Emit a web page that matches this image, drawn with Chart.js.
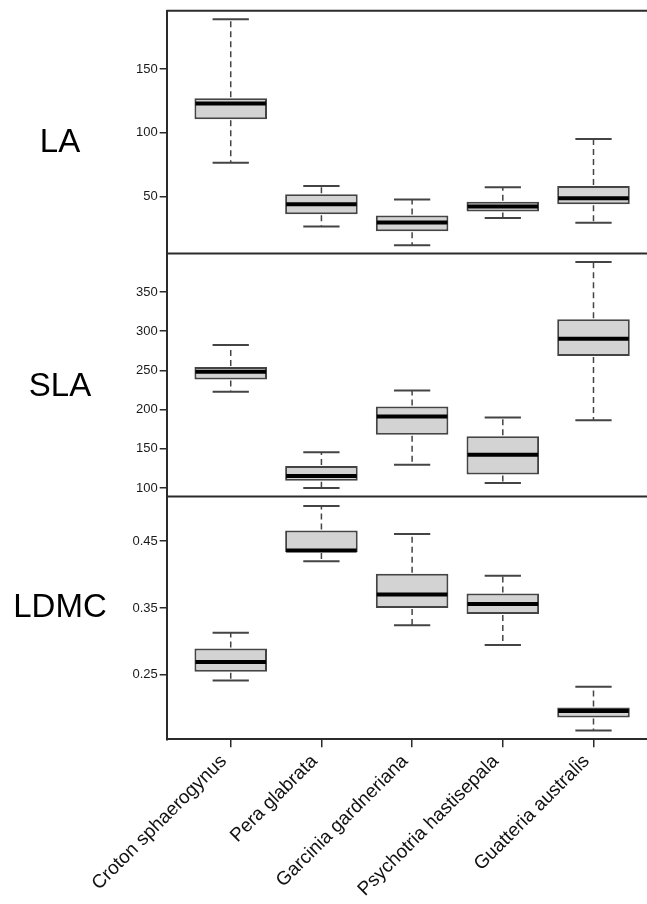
<!DOCTYPE html>
<html>
<head>
<meta charset="utf-8">
<title>Leaf traits by species</title>
<script src="https://cdn.jsdelivr.net/npm/chart.js@4.4.1/dist/chart.umd.min.js"></script>
<style>
  html, body { margin: 0; padding: 0; background: #fff; }
  #wrap { position: relative; width: 647px; height: 904px; }
</style>
</head>
<body>
<div id="wrap"><canvas id="traitChart"></canvas></div>
<script>
// ---- Data ----
const SPECIES = ['Croton sphaerogynus', 'Pera glabrata', 'Garcinia gardneriana', 'Psychotria hastisepala', 'Guatteria australis'];
const POSITIONS = [1, 2, 3, 4, 5];

const LA_MIN = [76.4, 26.4, 11.7, 33.2, 29.3];
const LA_Q1  = [110.7, 36.1, 22.7, 38.2, 44.0];
const LA_MED = [123.0, 44.0, 29.6, 42.1, 48.7];
const LA_Q3  = [127.0, 51.8, 35.1, 45.8, 58.3];
const LA_MAX = [189.0, 58.3, 47.6, 57.3, 95.2];
const LA_TICKS = [50, 100, 150];

const SLA_MIN = [222.8, 100.0, 129.8, 106.4, 186.4];
const SLA_Q1  = [238.5, 109.3, 167.8, 117.4, 268.3];
const SLA_MED = [248.3, 115.3, 191.2, 142.6, 290.5];
const SLA_Q3  = [254.2, 128.1, 204.0, 166.0, 315.2];
const SLA_MAX = [282.3, 145.5, 224.4, 189.9, 388.1];
const SLA_TICKS = [100, 150, 200, 250, 300, 350];

const LDMC_MIN = [0.2415, 0.4201, 0.3241, 0.2948, 0.1669];
const LDMC_Q1  = [0.2545, 0.4340, 0.3500, 0.3410, 0.1863];
const LDMC_MED = [0.2694, 0.4361, 0.3704, 0.3560, 0.1958];
const LDMC_Q3  = [0.2893, 0.4660, 0.4012, 0.3719, 0.2012];
const LDMC_MAX = [0.3131, 0.5027, 0.4609, 0.3982, 0.2321];
const LDMC_TICKS = [0.25, 0.35, 0.45];

// ---- Styles ----
const AXIS = '#2b2b2b';
const BOX_FILL = '#d3d3d3';
const BOX_EDGE = '#444444';
const FONT = "'Liberation Sans', Arial, sans-serif";

// panels top to bottom
const PANELS = [
    { name: 'LA',   axis: 'yLA',   min: LA_MIN,   q1: LA_Q1,   med: LA_MED,   q3: LA_Q3,   max: LA_MAX,   labelShift: 11 },
    { name: 'SLA',  axis: 'ySLA',  min: SLA_MIN,  q1: SLA_Q1,  med: SLA_MED,  q3: SLA_Q3,  max: SLA_MAX,  labelShift: 12 },
    { name: 'LDMC', axis: 'yLDMC', min: LDMC_MIN, q1: LDMC_Q1, med: LDMC_MED, q3: LDMC_Q3, max: LDMC_MAX, labelShift: -10 },
];

function boxDataset(p) {
    return {
        type: 'bar',
        label: p.name,
        yAxisID: p.axis,
        grouped: false,
        data: POSITIONS.map((x, i) => ({ x: x, y: [p.q1[i], p.q3[i]] })),
        backgroundColor: BOX_FILL,
        borderColor: BOX_EDGE,
        borderWidth: 2,
        borderSkipped: false,
        barPercentage: 0.8,
        categoryPercentage: 1,
    };
}

function yAxis(ticks, min, max, fmt) {
    return {
        type: 'linear',
        position: 'left',
        stack: 'traits',
        stackWeight: 1,
        min: min,
        max: max,
        afterBuildTicks: s => { s.ticks = ticks.map(v => ({ value: v })); },
        afterFit: s => { s.width = 166.7; s.paddingTop = 0; s.paddingBottom = 0; },
        grid: { drawOnChartArea: false, drawTicks: true, tickLength: 7, color: AXIS, lineWidth: 1.5 },
        border: { color: AXIS, width: 2 },
        ticks: { padding: 2, color: '#1a1a1a', font: { family: FONT, size: 13 }, callback: fmt },
    };
}

// whiskers, caps, medians, panel frame and panel names
const boxPlotMarks = {
    id: 'boxPlotMarks',
    afterDatasetsDraw(chart) {
        const ctx = chart.ctx;
        const area = chart.chartArea;
        ctx.save();
        PANELS.forEach((p, d) => {
            const y = chart.scales[p.axis];
            const bars = chart.getDatasetMeta(d).data;
            bars.forEach((bar, i) => {
                const cx = bar.x;
                const half = bar.width / 2;
                const cap = bar.width / 4;
                // dashed whiskers
                ctx.strokeStyle = BOX_EDGE;
                ctx.lineWidth = 1.5;
                ctx.setLineDash([6, 4]);
                ctx.beginPath();
                ctx.moveTo(cx, y.getPixelForValue(p.q3[i]) - 1);
                ctx.lineTo(cx, y.getPixelForValue(p.max[i]));
                ctx.moveTo(cx, y.getPixelForValue(p.q1[i]) + 1);
                ctx.lineTo(cx, y.getPixelForValue(p.min[i]));
                ctx.stroke();
                // caps
                ctx.setLineDash([]);
                ctx.lineWidth = 2;
                ctx.beginPath();
                ctx.moveTo(cx - cap, y.getPixelForValue(p.max[i]));
                ctx.lineTo(cx + cap, y.getPixelForValue(p.max[i]));
                ctx.moveTo(cx - cap, y.getPixelForValue(p.min[i]));
                ctx.lineTo(cx + cap, y.getPixelForValue(p.min[i]));
                ctx.stroke();
                // median
                ctx.strokeStyle = '#000';
                ctx.lineWidth = 4;
                ctx.beginPath();
                ctx.moveTo(cx - half + 1, y.getPixelForValue(p.med[i]));
                ctx.lineTo(cx + half - 1, y.getPixelForValue(p.med[i]));
                ctx.stroke();
            });

            // top edge of each panel
            ctx.strokeStyle = AXIS;
            ctx.lineWidth = 2;
            ctx.beginPath();
            ctx.moveTo(area.left, y.top);
            ctx.lineTo(area.right, y.top);
            ctx.stroke();

            // panel name
            ctx.fillStyle = '#000';
            ctx.font = '33px ' + FONT;
            ctx.textAlign = 'center';
            ctx.textBaseline = 'middle';
            ctx.fillText(p.name, 60, (y.top + y.bottom) / 2 + p.labelShift);
        });
        ctx.restore();
    }
};

Chart.defaults.font.family = FONT;
Chart.defaults.color = '#1a1a1a';

new Chart(document.getElementById('traitChart'), {
    type: 'bar',
    data: { datasets: PANELS.map(boxDataset) },
    options: {
        responsive: true,
        maintainAspectRatio: false,
        animation: false,
        layout: { padding: { top: 10.7, right: 0, left: 0, bottom: 0 } },
        plugins: { legend: { display: false }, tooltip: { enabled: false } },
        scales: {
            x: {
                type: 'linear',
                offset: false,
                min: 0.294,
                max: 5.59,
                afterBuildTicks: s => { s.ticks = POSITIONS.map(v => ({ value: v })); },
                afterFit: s => { s.height = 164.7; s.paddingLeft = 0; s.paddingRight = 0; },
                grid: { offset: false, drawOnChartArea: false, drawTicks: true, tickLength: 8, color: AXIS, lineWidth: 1.5 },
                border: { color: AXIS, width: 2 },
                ticks: {
                    autoSkip: false,
                    minRotation: 45,
                    maxRotation: 45,
                    padding: 3,
                    labelOffset: -7,
                    color: '#111',
                    font: { family: FONT, size: 19 },
                    callback: v => SPECIES[v - 1],
                },
            },
            // defined bottom-up, the layout stacks the last one on top
            yLDMC: yAxis(LDMC_TICKS, 0.1536, 0.517, v => v.toFixed(2)),
            ySLA: yAxis(SLA_TICKS, 89.3, 399, v => String(v)),
            yLA: yAxis(LA_TICKS, 5.2, 195.8, v => String(v)),
        },
    },
    plugins: [boxPlotMarks],
});
</script>
</body>
</html>
